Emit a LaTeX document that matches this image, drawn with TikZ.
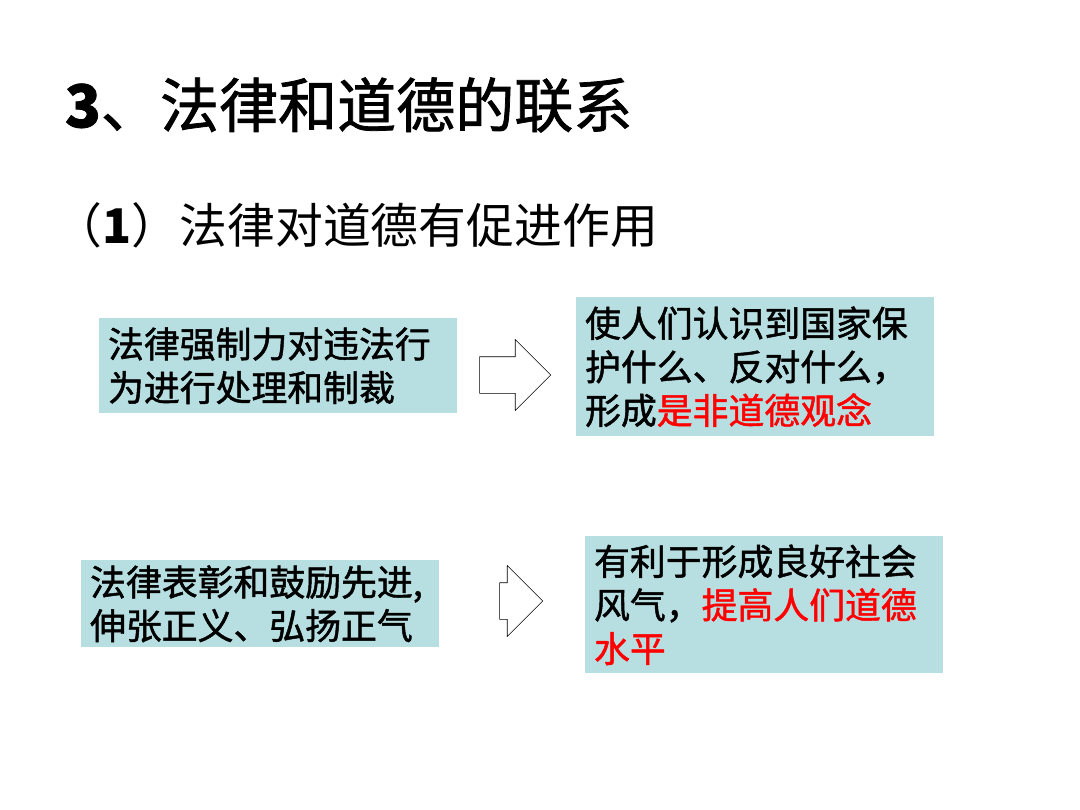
\documentclass[tikz,border=0pt]{standalone}
\usepackage{fontspec}
\setmainfont{Liberation Sans}
\newfontfamily\cjk{Noto Sans CJK SC}
\newfontfamily\cjkb[FakeBold=1.3]{Noto Sans CJK SC}
\usetikzlibrary{shapes.arrows}
\definecolor{boxfill}{RGB}{183,222,224}
\begin{document}
\begin{tikzpicture}[x=0.025cm,y=-0.025cm,
	textbox/.style={fill=boxfill,anchor=north west,align=left,inner xsep=0.22cm,
		text width=8.5cm,font=\cjkb\fontsize{25.5}{31}\selectfont},
	fatarrow/.style={single arrow,draw=black,fill=white,thin,inner xsep=0pt,
		inner ysep=0.45cm,single arrow head extend=0.43cm,single arrow head indent=0pt}]
	\useasboundingbox (0,0) rectangle (1080,810);
	\node[anchor=west,font=\cjkb\fontsize{42}{50}\selectfont] (title) at (60,105) {\textbf{3}、法律和道德的联系};
	\node[anchor=west,font=\cjk\fontsize{34}{42}\selectfont] (sub) at (50,225) {（\textbf{1}）法律对道德有促进作用};
	
	\node[textbox,minimum height=95*0.025cm] (a) at (99,318) {法律强制力对违法行\\为进行处理和制裁};
	\node[textbox,minimum height=139*0.025cm] (b) at (576,297) {使人们认识到国家保\\护什么、反对什么，\\形成\textcolor{red}{是非道德观念}};
	\node[textbox,minimum height=87*0.025cm] (c) at (81,560) {法律表彰和鼓励先进,\\伸张正义、弘扬正气};
	\node[textbox,minimum height=137*0.025cm] (d) at (585,536) {有利于形成良好社会\\风气，\textcolor{red}{提高人们道德}\\\textcolor{red}{水平}};
	
	\node[fatarrow,minimum height=1.78cm] (ab) at (506,375) {};
	\node[fatarrow,minimum height=1.08cm] (cd) at (512,601) {};
	
\end{tikzpicture}
\end{document}
